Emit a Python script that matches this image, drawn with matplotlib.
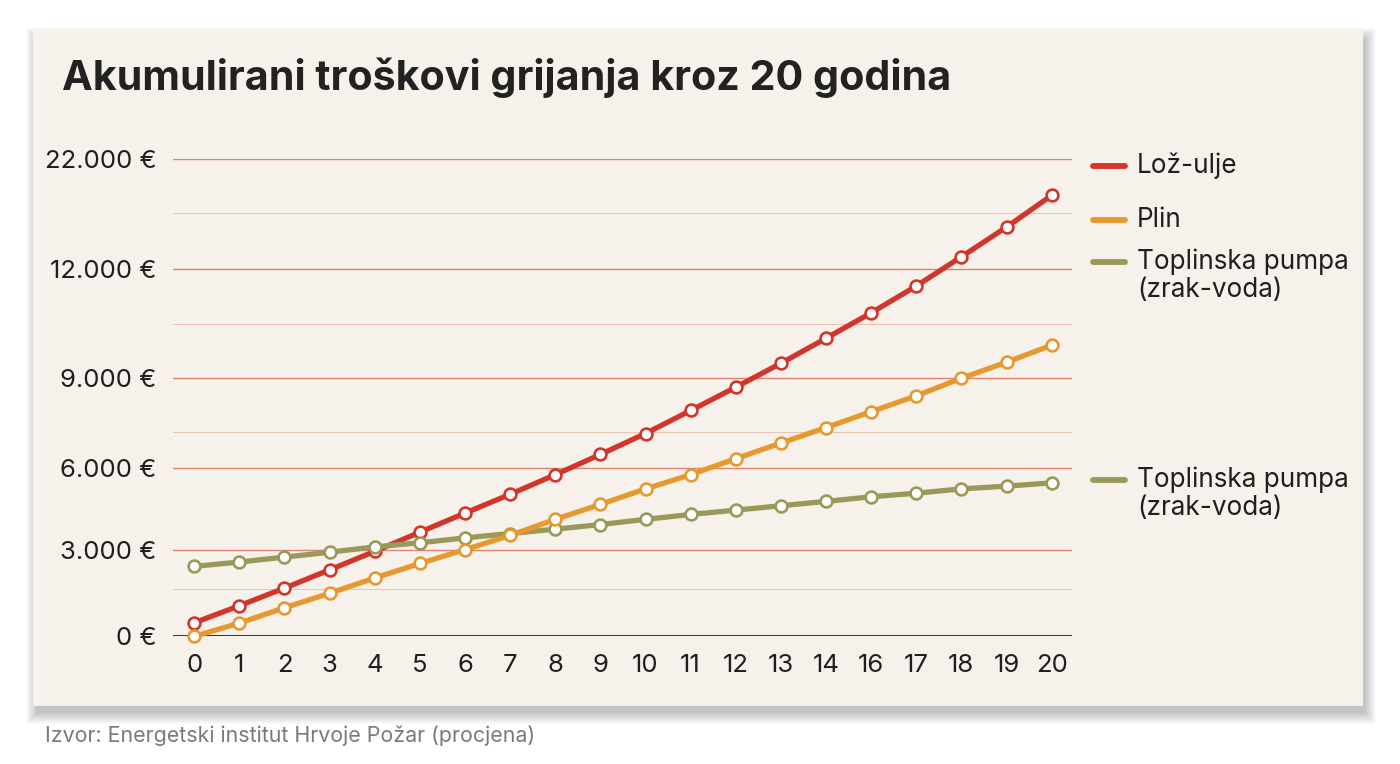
import numpy as np
import matplotlib.pyplot as plt
from matplotlib.lines import Line2D
from matplotlib.patches import Rectangle

plt.rcParams['font.family'] = ['Inter', 'DejaVu Sans']

# podaci (ocitano sa slike)
godine = ['0', '1', '2', '3', '4', '5', '6', '7', '8', '9', '10',
          '11', '12', '13', '14', '16', '17', '18', '19', '20']
loz_ulje = [470, 1060, 1670, 2300, 2940, 3640, 4340, 5030, 5750, 6450,
            7150, 7920, 8700, 9410, 10100, 10800, 11540, 13140, 15840, 18720]
plin = [0, 460, 990, 1490, 2020, 2520, 3000, 3520, 4110, 4660,
        5230, 5750, 6310, 6830, 7350, 7880, 8410, 9000, 9440, 9910]
pumpa = [2420, 2570, 2740, 2910, 3100, 3250, 3430, 3590, 3750, 3920,
         4110, 4290, 4450, 4610, 4770, 4940, 5070, 5230, 5330, 5450]

y_ticks = [0, 3000, 6000, 9000, 12000, 22000]
y_labels = ['0 €', '3.000 €', '6.000 €', '9.000 €', '12.000 €', '22.000 €']
y_minor = [1640, 7200, 10500, 17100]

naslov = 'Akumulirani troškovi grijanja kroz 20 godina'
izvor = 'Izvor: Energetski institut Hrvoje Požar (procjena)'
pumpa_naziv = 'Toplinska pumpa\n(zrak-voda)'

boja_loz = '#d2362b'
boja_plin = '#e5992f'
boja_pumpa = '#9a9959'

# neravnomjerna os y kao na originalu
skala = [0, 86.8, 168.5, 258.2, 367.1, 477.1]


def naprijed(v):
    return np.interp(v, y_ticks, skala)


def nazad(p):
    return np.interp(p, skala, y_ticks)


W, H = 1400, 764
fig = plt.figure(figsize=(W / 100, H / 100), dpi=100)
fig.patch.set_facecolor('white')


def fx(px):
    return px / W


def fy(py):
    return 1 - py / H


# sjena i kartica
for i in range(12, 0, -1):
    fig.add_artist(Rectangle((fx(33 - i + 5), fy(706 + i + 6)), fx(1330 + 2 * i - 4), (678 + 2 * i - 6) / H,
                             transform=fig.transFigure, facecolor='black', alpha=0.02,
                             edgecolor='none', zorder=0))
fig.add_artist(Rectangle((fx(33), fy(706)), fx(1330), 678 / H, transform=fig.transFigure,
                         facecolor='#f6f2eb', edgecolor='none', zorder=0))

ax = fig.add_axes([fx(173), fy(636.4), fx(1072 - 173), (636.4 - 159.3) / H])
ax.set_facecolor('none')
ax.set_yscale('function', functions=(naprijed, nazad))
ax.set_ylim(0, 22000)

x = np.arange(len(godine))
ax.set_xlim(-0.47, len(godine) - 1 + 0.45)

for v in y_ticks[1:]:
    ax.axhline(v, color='#dc8472', lw=1.0, zorder=1)
for v in y_minor:
    ax.axhline(v, color='#efc3b4', lw=0.8, zorder=1)
ax.axhline(0, color='#222222', lw=1.3, zorder=2)

for vals, boja, z in [(loz_ulje, boja_loz, 3), (pumpa, boja_pumpa, 4), (plin, boja_plin, 5)]:
    ax.plot(x, vals, color=boja, lw=3.8, marker='o', markersize=8.5,
            markerfacecolor='white', markeredgecolor=boja, markeredgewidth=1.9,
            zorder=z, clip_on=False, solid_capstyle='round')

for s in ax.spines.values():
    s.set_visible(False)

ax.set_yticks(y_ticks, y_labels)
ax.minorticks_off()
ax.set_xticks(x, godine)
ax.tick_params(axis='both', length=0, labelsize=18.5, labelcolor='#1f1f1f')
ax.tick_params(axis='y', pad=12)
ax.tick_params(axis='x', pad=13)

# naslov i izvor
fig.text(fx(62), fy(78), naslov, fontsize=29.7, fontweight='bold', color='#222222',
         ha='left', va='center')
fig.text(fx(45), fy(736), izvor, fontsize=15.4, color='#7a7a7a', ha='left', va='center')

# legenda
stavke = [(166, 'Lož-ulje', boja_loz), (220, 'Plin', boja_plin),
          (262, pumpa_naziv, boja_pumpa), (480, pumpa_naziv, boja_pumpa)]
for py, tekst, boja in stavke:
    fig.add_artist(Line2D([fx(1093), fx(1125)], [fy(py), fy(py)], color=boja, lw=4.2,
                          solid_capstyle='round', transform=fig.transFigure))
    for k, red in enumerate(tekst.split('\n')):
        fig.text(fx(1137), fy(py + 28 * k), red, fontsize=18.8, color='#1f1f1f',
                 ha='left', va='center')

plt.savefig('out.png', dpi=100)
